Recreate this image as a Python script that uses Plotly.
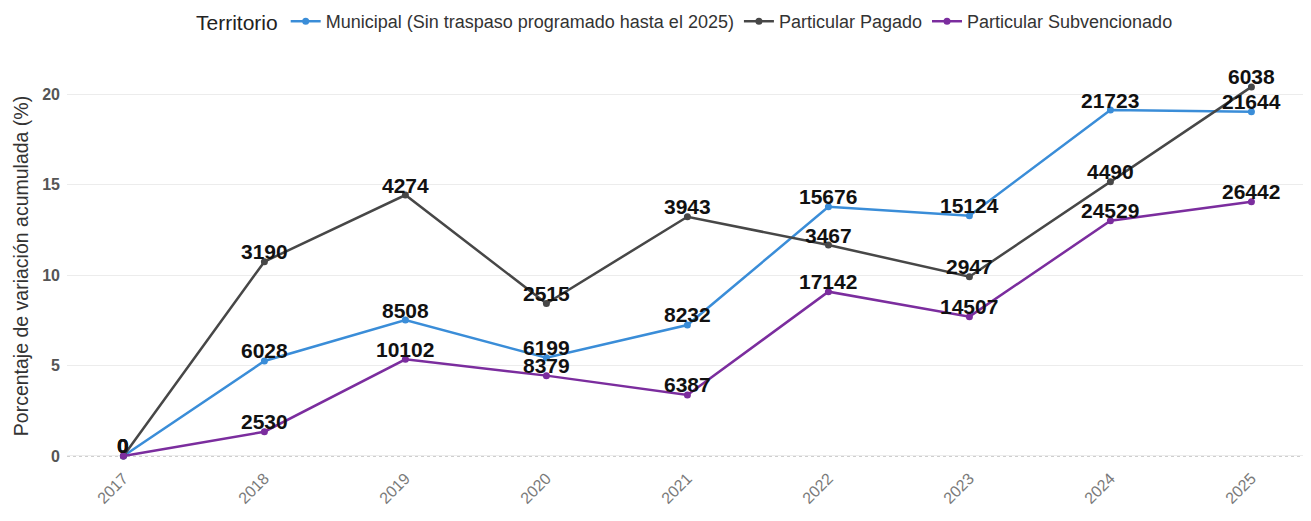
import plotly.graph_objects as go

years = [2017, 2018, 2019, 2020, 2021, 2022, 2023, 2024, 2025]

muni_name = "Municipal (Sin traspaso programado hasta el 2025)"
muni_pct = [0, 5.25, 7.51, 5.43, 7.24, 13.77, 13.28, 19.12, 19.02]
muni_n = [0, 6028, 8508, 6199, 8232, 15676, 15124, 21723, 21644]

pag_name = "Particular Pagado"
pag_pct = [0, 10.74, 14.42, 8.43, 13.22, 11.66, 9.91, 15.16, 20.4]
pag_n = [0, 3190, 4274, 2515, 3943, 3467, 2947, 4490, 6038]

sub_name = "Particular Subvencionado"
sub_pct = [0, 1.34, 5.34, 4.44, 3.37, 9.08, 7.70, 13.0, 14.05]
sub_n = [0, 2530, 10102, 8379, 6387, 17142, 14507, 24529, 26442]

series = [
    (muni_name, muni_pct, muni_n, "#3A8DD8"),
    (pag_name, pag_pct, pag_n, "#474747"),
    (sub_name, sub_pct, sub_n, "#7B2D9E"),
]

fig = go.Figure()
for name, ys, ns, color in series:
    fig.add_trace(go.Scatter(
        x=years, y=ys, name=name, mode="lines+markers",
        line=dict(color=color, width=2.5),
        marker=dict(color=color, size=7),
    ))
for name, ys, ns, color in series:
    for xv, yv, nv in zip(years, ys, ns):
        fig.add_annotation(
            x=xv, y=yv, text=str(nv), showarrow=False, yshift=10,
            font=dict(family="Liberation Sans", size=21, color="#111111", weight="bold"),
        )

fig.add_hline(y=0, line=dict(color="#a0a0a0", width=1.2, dash="dot"), layer="below")

# page body has an 8px default margin, so the figure is sized/offset to compensate
fig.update_layout(
    width=1303, height=513,
    paper_bgcolor="white", plot_bgcolor="white",
    margin=dict(l=59, r=6, t=59, b=56, autoexpand=False),
    font=dict(family="Liberation Sans", color="#333333"),
    legend=dict(
        orientation="h", x=0.5, xanchor="center", y=1.113, yanchor="middle",
        title=dict(text="Territorio", font=dict(size=21, color="#222222")),
        font=dict(size=18, color="#333333"),
        itemwidth=30,
    ),
    xaxis=dict(
        range=[2016.6, 2025.38], tickvals=years, ticktext=[str(y) for y in years],
        tickangle=-45, showgrid=False, zeroline=False, showline=False,
        tickfont=dict(size=16, color="#7a7a7a"), automargin=False,
    ),
    yaxis=dict(
        range=[-0.5, 21.5], tickvals=[0, 5, 10, 15, 20],
        showgrid=True, gridcolor="#ececec", gridwidth=1.2, zeroline=False, showline=False,
        tickfont=dict(size=16, color="#555555", weight="bold"),
        ticklabelstandoff=6, automargin=False,
        title=dict(text="Porcentaje de variación acumulada (%)", font=dict(size=19.5, color="#333333"), standoff=8),
    ),
)

fig.write_html("out.html")
